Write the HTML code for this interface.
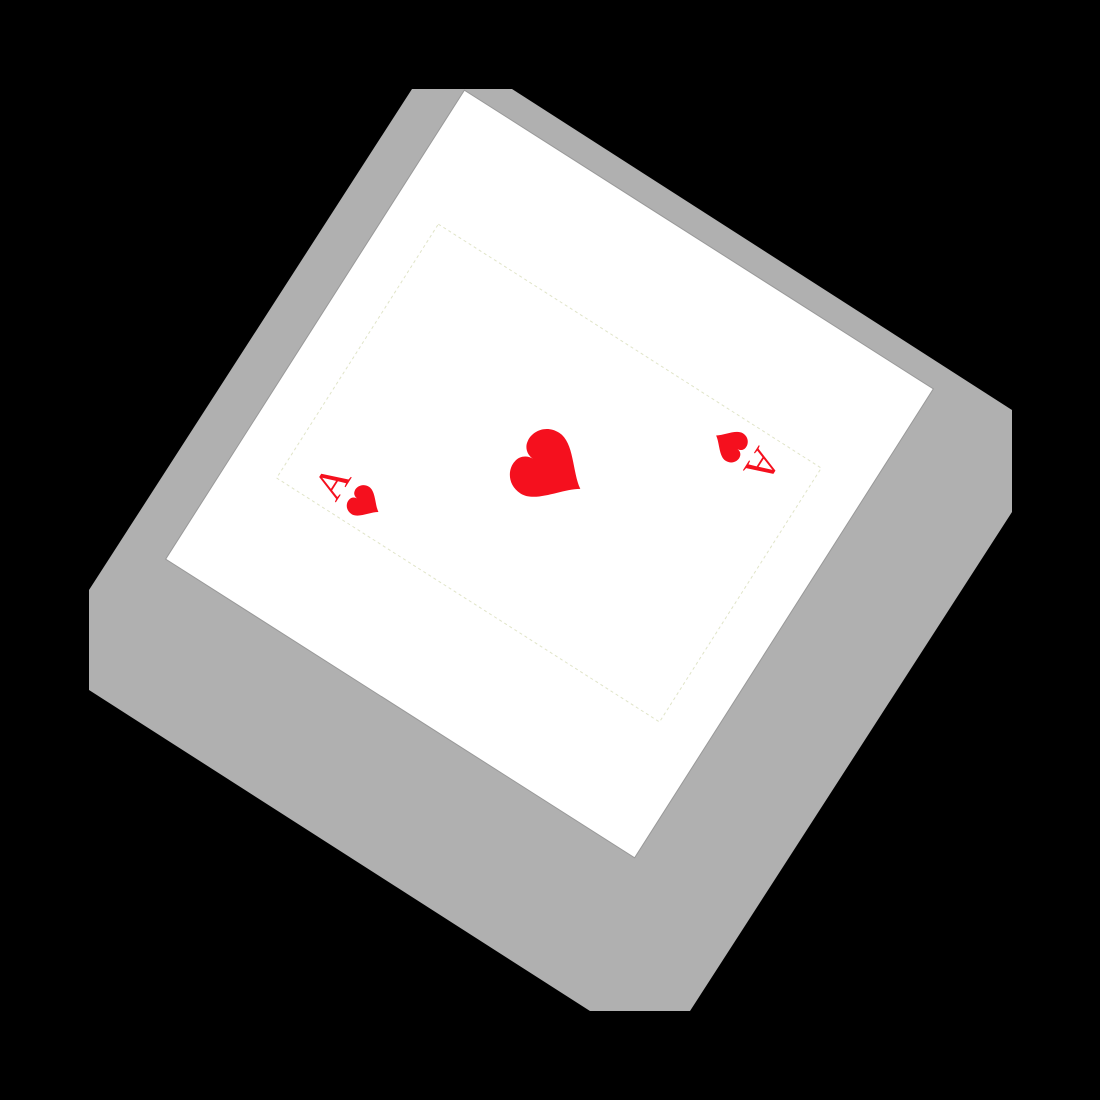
<!DOCTYPE html>
<html><head><meta charset="utf-8"><style>
html,body{margin:0;padding:0;background:#000;width:1100px;height:1100px;overflow:hidden}
</style></head><body>
<svg width="1100" height="1100" viewBox="0 0 1100 1100">
<rect x="0" y="0" width="1100" height="1100" fill="#000"/>
<polygon points="412,89 512,89 1012,410 1012,512 690,1011 590,1011 89,690 89,590" fill="#b0b0b0"/>
<g transform="translate(549.5,474) rotate(32.5)">
  <rect x="-278" y="-278" width="556" height="556" fill="#fff" stroke="#999" stroke-width="1"/>
  <rect x="-228" y="-151" width="454" height="301" fill="none" stroke="#e0e4c8" stroke-width="1" stroke-dasharray="3,3"/>
  <g transform="translate(-2,-4) rotate(-90)">
    <path d="M0,36 C-10,20 -36,6 -36,-12 C-36,-28 -22,-36 -12,-34 C-4,-33 0,-26 0,-20 C0,-26 4,-33 12,-34 C22,-36 36,-28 36,-12 C36,6 10,20 0,36 Z" fill="#f5101e"/>
  </g>
  <g transform="translate(-178,124) rotate(-90)">
    <text x="0" y="13" font-family="Liberation Serif, serif" font-size="42" fill="#f5101e" text-anchor="middle">A</text>
    <path transform="translate(0,38) scale(0.45)" d="M0,36 C-10,20 -36,6 -36,-12 C-36,-28 -22,-36 -12,-34 C-4,-33 0,-26 0,-20 C0,-26 4,-33 12,-34 C22,-36 36,-28 36,-12 C36,6 10,20 0,36 Z" fill="#f5101e"/>
  </g>
  <g transform="translate(174,-122) rotate(90)">
    <text x="0" y="13" font-family="Liberation Serif, serif" font-size="42" fill="#f5101e" text-anchor="middle">A</text>
    <path transform="translate(0,38) scale(0.45)" d="M0,36 C-10,20 -36,6 -36,-12 C-36,-28 -22,-36 -12,-34 C-4,-33 0,-26 0,-20 C0,-26 4,-33 12,-34 C22,-36 36,-28 36,-12 C36,6 10,20 0,36 Z" fill="#f5101e"/>
  </g>
</g>
</svg>
</body></html>
